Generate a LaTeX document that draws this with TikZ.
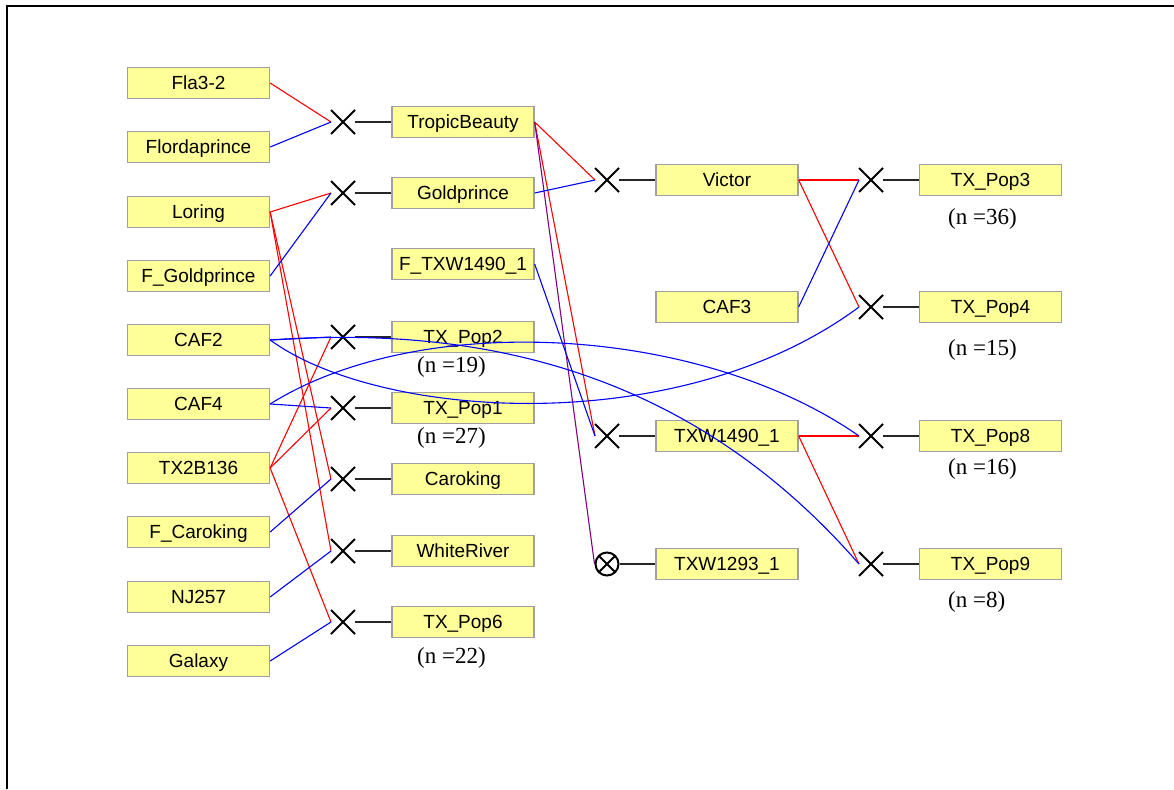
\documentclass[tikz,border=0pt]{standalone}
\usepackage{fontspec}
\setmainfont{Liberation Serif}
\newfontfamily\arialfont{Liberation Sans}
\usepackage{xcolor}
\definecolor{cultyellow}{RGB}{255,255,153}
\definecolor{cultgray}{RGB}{160,160,160}
\definecolor{selfpurple}{RGB}{128,0,128}
\usetikzlibrary{positioning}
\usetikzlibrary{shapes.misc}

\begin{document}
\begin{tikzpicture}[x=1pt, y=-1pt,
	cult/.style={draw=cultgray, fill=cultyellow, line width=1.3pt, minimum width=142pt, minimum height=31pt, inner sep=0pt, text height=13.6pt, text depth=0pt, font=\arialfont\fontsize{19}{21}\selectfont},
	cx/.style={cross out, draw=black, line width=2pt, minimum size=15pt, inner sep=0pt, outer sep=4.5pt},
	cself/.style={circle, draw=black, line width=2pt, minimum size=23pt, inner sep=0pt, path picture={\draw[line width=2pt] (path picture bounding box.north west) -- (path picture bounding box.south east) (path picture bounding box.north east) -- (path picture bounding box.south west);}},
	nsize/.style={anchor=west, inner sep=0pt, font=\fontsize{23}{25}\selectfont},
	mom/.style={red, line width=1.1pt},
	dad/.style={blue, line width=1.1pt},
	selfed/.style={selfpurple, line width=1.1pt},
	link/.style={black!85, line width=1.2pt}]
	\useasboundingbox (0,0) rectangle (1174,789);
	\draw[line width=2pt] (1174,6.5) -- (7,6.5) -- (7,789);

	% parents (left)
	\node[cult] (fla) at (198.5,83) {Fla3-2};
	\node[cult] (flord) at (198.5,147) {Flordaprince};
	\node[cult] (lor) at (198.5,212) {Loring};
	\node[cult] (fgold) at (198.5,276) {F\_Goldprince};
	\node[cult] (caf2) at (198.5,340) {CAF2};
	\node[cult] (caf4) at (198.5,404) {CAF4};
	\node[cult] (tx2b) at (198.5,468) {TX2B136};
	\node[cult] (fcar) at (198.5,532) {F\_Caroking};
	\node[cult] (nj) at (198.5,597) {NJ257};
	\node[cult] (gal) at (198.5,661) {Galaxy};

	% first crosses
	\node[cx] (xtb) at (343,122) {};
	\node[cx] (xgp) at (343,193) {};
	\node[cx] (xp2) at (343,337) {};
	\node[cx] (xp1) at (343,408) {};
	\node[cx] (xcar) at (343,479) {};
	\node[cx] (xwr) at (343,551) {};
	\node[cx] (xp6) at (343,622) {};

	\node[cult] (tb) at (463,122) {TropicBeauty};
	\node[cult] (gp) at (463,193) {Goldprince};
	\node[cult] (ftxw) at (463,264) {F\_TXW1490\_1};
	\node[cult] (pop2) at (463,337) {TX\_Pop2};
	\node[cult] (pop1) at (463,408) {TX\_Pop1};
	\node[cult] (car) at (463,479) {Caroking};
	\node[cult] (wr) at (463,551) {WhiteRiver};
	\node[cult] (pop6) at (463,622) {TX\_Pop6};
	\node[nsize] (n19) at (417,367) {(n =19)};
	\node[nsize] (n27) at (417,438) {(n =27)};
	\node[nsize] (n22) at (417,658) {(n =22)};

	% second crosses
	\node[cx] (xvic) at (607,180) {};
	\node[cx] (x90) at (607,436) {};
	\node[cself] (x93) at (607,564) {};

	\node[cult] (vic) at (727,180) {Victor};
	\node[cult] (caf3) at (727,307) {CAF3};
	\node[cult] (txw90) at (727,436) {TXW1490\_1};
	\node[cult] (txw93) at (727,564) {TXW1293\_1};

	% last crosses (right)
	\node[cx] (xp3) at (871,180) {};
	\node[cx] (xp4) at (871,307) {};
	\node[cx] (xp8) at (871,436) {};
	\node[cx] (xp9) at (871,564) {};

	\node[cult] (pop3) at (990.5,180) {TX\_Pop3};
	\node[cult] (pop4) at (990.5,307) {TX\_Pop4};
	\node[cult] (pop8) at (990.5,436) {TX\_Pop8};
	\node[cult] (pop9) at (990.5,564) {TX\_Pop9};
	\node[nsize] (n36) at (948,219) {(n =36)};
	\node[nsize] (n15) at (948,350) {(n =15)};
	\node[nsize] (n16) at (948,469) {(n =16)};
	\node[nsize] (n8) at (948,602) {(n =8)};

	% cross to offspring
	\draw[link] (xtb) -- (tb);
	\draw[link] (xgp) -- (gp);
	\draw[link] (xp2) -- (pop2);
	\draw[link] (xp1) -- (pop1);
	\draw[link] (xcar) -- (car);
	\draw[link] (xwr) -- (wr);
	\draw[link] (xp6) -- (pop6);
	\draw[link] (xvic) -- (vic);
	\draw[link] (x90) -- (txw90);
	\draw[link] (x93) -- (txw93);
	\draw[link] (xp3) -- (pop3);
	\draw[link] (xp4) -- (pop4);
	\draw[link] (xp8) -- (pop8);
	\draw[link] (xp9) -- (pop9);

	% female parents
	\draw[mom] (fla.east) -- (xtb.west);
	\draw[mom] (lor.east) -- (xgp.west);
	\draw[mom] (lor.east) -- (xcar.west);
	\draw[mom] (lor.east) -- (xwr.west);
	\draw[mom] (tx2b.east) -- (xp2.west);
	\draw[mom] (tx2b.east) -- (xp1.west);
	\draw[mom] (tx2b.east) -- (xp6.west);
	\draw[mom] (tb.east) -- (xvic.west);
	\draw[mom] (tb.east) -- (x90.west);
	\draw[mom] (vic.east) -- (xp3.west);
	\draw[mom] (vic.east) -- (xp4.west);
	\draw[mom] (txw90.east) -- (xp8.west);
	\draw[mom] (txw90.east) -- (xp9.west);
	\draw[selfed] (tb.east) -- (x93.west);

	% male parents
	\draw[dad] (flord.east) -- (xtb.west);
	\draw[dad] (fgold.east) -- (xgp.west);
	\draw[dad] (caf2.east) -- (xp2.west);
	\draw[dad] (caf4.east) -- (xp1.west);
	\draw[dad] (fcar.east) -- (xcar.west);
	\draw[dad] (nj.east) -- (xwr.west);
	\draw[dad] (gal.east) -- (xp6.west);
	\draw[dad] (gp.east) -- (xvic.west);
	\draw[dad] (ftxw.east) -- (x90.west);
	\draw[dad] (caf3.east) -- (xp3.west);
	\draw[dad] (caf2.east) .. controls (480,325) and (690,370) .. (xp9.west);
	\draw[dad] (caf2.east) .. controls (380,420) and (680,440) .. (xp4.west);
	\draw[dad] (caf4.east) .. controls (420,310) and (700,325) .. (xp8.west);
\end{tikzpicture}
\end{document}
